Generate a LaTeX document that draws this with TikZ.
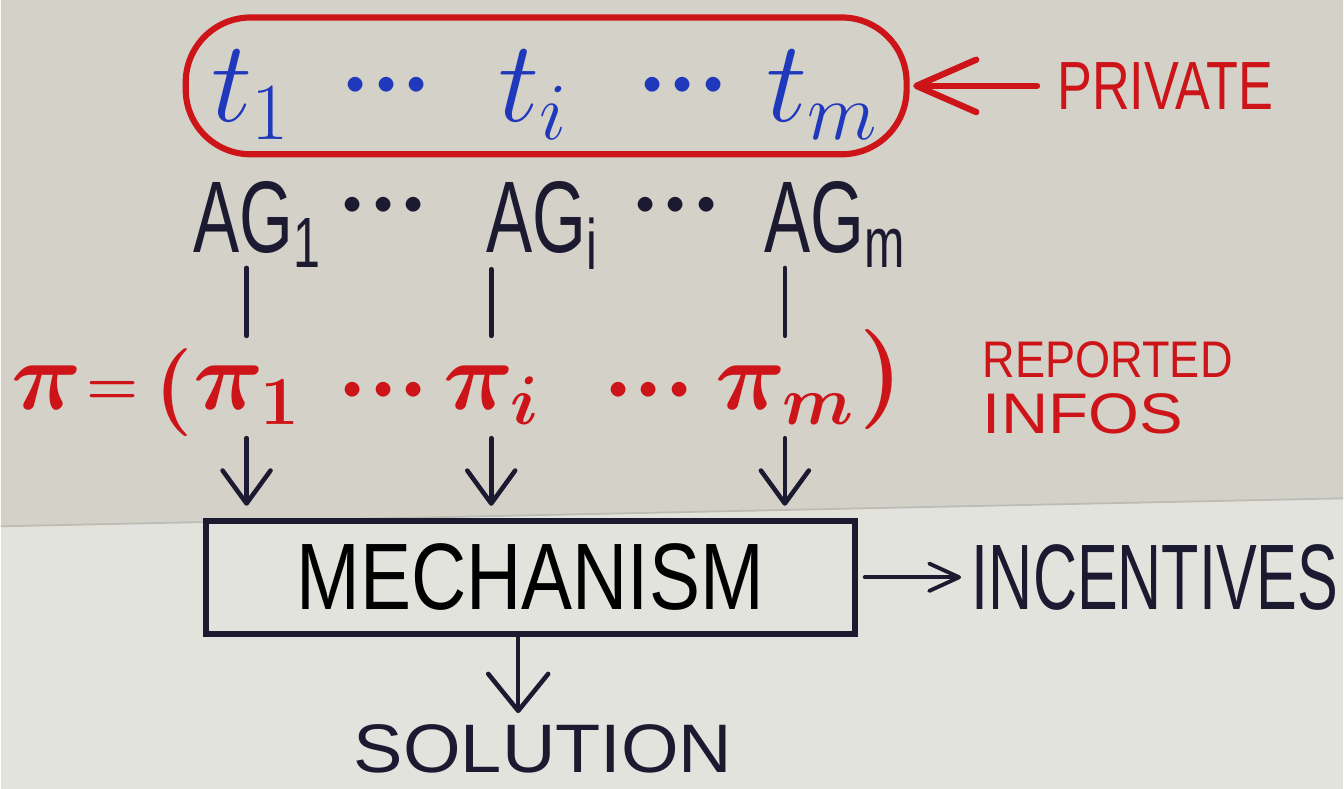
\RequirePackage{fix-cm}
\documentclass[tikz,border=0pt]{standalone}
\usepackage{fontspec}
\usepackage{graphicx}
\usetikzlibrary{arrows.meta, positioning}
\newfontfamily\hand{Liberation Sans}
\newfontfamily\handag[FakeStretch=0.68]{Liberation Sans}
\newcommand{\hw}[3]{\resizebox{#1}{#2}{\hand #3}}
\newcommand{\hdots}{${\cdot}{\cdot}{\cdot}$}
\definecolor{board}{RGB}{211,209,200}
\definecolor{boardlow}{RGB}{226,227,221}
\definecolor{boardedge}{RGB}{188,188,180}
\definecolor{marker}{RGB}{205,20,24}
\definecolor{bluemarker}{RGB}{32,56,188}
\definecolor{ink}{RGB}{28,26,48}

\begin{document}
\begin{tikzpicture}[
    x=0.02cm, y=-0.02cm,
    lbl/.style={inner sep=0pt, outer sep=0pt, anchor=base},
    typ/.style={lbl, text=bluemarker, font=\fontsize{66}{68}\selectfont},
    agt/.style={lbl, text=ink, font=\handag\fontsize{58}{60}\selectfont},
    rep/.style={lbl, text=marker, font=\boldmath\fontsize{56}{58}\selectfont},
    dots/.style={lbl, font=\boldmath\fontsize{54}{56}\selectfont},
    box/.style={rectangle, draw=ink, line width=3.5pt, minimum width=13cm, minimum height=2.26cm},
    link/.style={draw=ink, line width=2.6pt, line cap=round},
    arr/.style={link, -{Straight Barb[round, length=0.66cm, width=0.96cm]}},
    redarr/.style={draw=marker, line width=3.6pt, line cap=round, -{Straight Barb[round, length=1.2cm, width=1.05cm]}}
]
    % board
    \fill[boardlow] (0,0) rectangle (1344,790);
    \fill[board] (0,0) -- (1344,0) -- (1344,499) -- (0,527) -- cycle;
    \draw[boardedge, line width=1pt] (0,527) -- (1344,499);
    \useasboundingbox (0,0) rectangle (1344,790);

    % private types
    \node (t1) [typ] at (250,122) {$t_1$};
    \node (td1) [dots, text=bluemarker] at (386,109) {\hdots};
    \node (ti) [typ] at (533,122) {$t_i$};
    \node (td2) [dots, text=bluemarker] at (683,109) {\hdots};
    \node (tm) [typ] at (822,122) {$t_m$};
    \node (types) [draw=marker, line width=3.5pt, rounded corners=1.3cm, minimum width=14.44cm, minimum height=2.74cm] at (546,86) {};
    \node (priv) [right=2.95cm of types, inner sep=0pt, text=marker] {\hw{4.32cm}{0.94cm}{PRIVATE}};

    % agents
    \node (ag1) [agt] at (257,253) {AG\textsubscript{1}};
    \node (agd1) [dots, text=ink] at (383,229) {\hdots};
    \node (agi) [agt] at (542,253) {AG\textsubscript{i}};
    \node (agd2) [dots, text=ink] at (676,229) {\hdots};
    \node (agm) [agt] at (835,253) {AG\textsubscript{m}};

    % reported infos
    \node (pivec) [rep] at (46,410) {$\pi$};
    \node (eq) [rep, font=\boldmath\fontsize{34}{36}\selectfont] at (112,405) {$=$};
    \node (lpar) [rep, font=\boldmath\fontsize{50}{52}\selectfont] at (173,415) {$($};
    \node (pi1) [rep] at (246,410) {$\pi_1$};
    \node (pd1) [dots, text=marker] at (383,414) {\hdots};
    \node (pii) [rep] at (491,410) {$\pi_i$};
    \node (pd2) [dots, text=marker] at (649,414) {\hdots};
    \node (pim) [rep] at (785,410) {$\pi_m$};
    \node (rpar) [rep, font=\boldmath\fontsize{57}{59}\selectfont] at (882,405) {$)$};
    \node (infos) [anchor=north west, inner sep=0pt, text=marker, align=left, font=\fontsize{10}{1.12cm}\selectfont] at (983,342) {\hw{5cm}{0.72cm}{REPORTED}\\\hw{4cm}{0.8cm}{INFOS}};

    % mechanism
    \node (mech) [box] at (530,578) {\hw{9.36cm}{1.32cm}{MECHANISM}};
    \node (inc) [right=2.28cm of mech, inner sep=0pt, text=ink] {\hw{7.34cm}{1.3cm}{INCENTIVES}};
    \node (sol) [below=1.75cm of mech, xshift=0.26cm, inner sep=0pt, text=ink] {\hw{7.58cm}{0.96cm}{SOLUTION}};

    % connectors
    \draw[redarr, shorten <=0.4cm, shorten >=2pt] (priv.west) -- (types.east);
    \foreach \p/\a in {pi1/ag1, pii/agi, pim/agm}
        \draw[link, shorten >=0.6cm] (\p.north |- \a.south) -- (\p.north);
    \foreach \p in {pi1, pii, pim}
        \draw[arr, shorten <=0.28cm, shorten >=0.24cm] (\p.south) -- (\p.south |- mech.north);
    \draw[arr, line width=2.2pt, -{Straight Barb[round, length=0.6cm, width=0.55cm]}, shorten <=4pt, shorten >=6pt] (mech) -- (inc);
    \draw[arr, -{Straight Barb[round, length=0.74cm, width=1.2cm]}, shorten >=0.22cm] ([xshift=-0.24cm]mech.south) -- ([xshift=-0.24cm]mech.south |- sol.north);
\end{tikzpicture}
\end{document}
